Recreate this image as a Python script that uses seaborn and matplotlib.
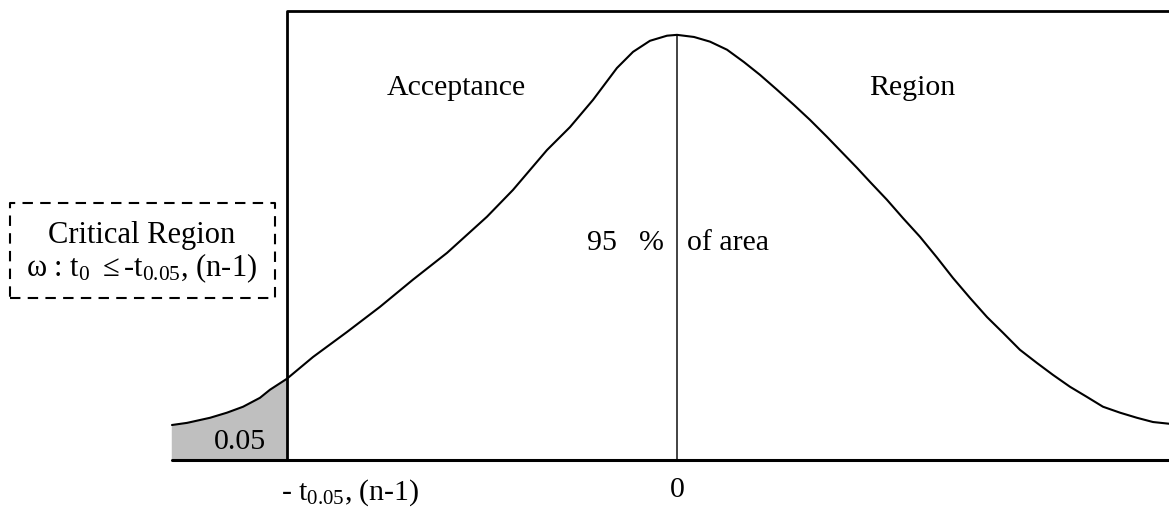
import numpy as np
import pandas as pd
import seaborn as sns
import matplotlib.pyplot as plt

# curve: t value and relative height (peak = 1)
t_vals = [-3.885, -3.769, -3.592, -3.462, -3.338, -3.208, -3.131, -3.0, -2.8, -2.538,
          -2.285, -2.031, -1.769, -1.462, -1.262, -1.0, -0.823, -0.646, -0.462, -0.338,
          -0.208, -0.077, 0.0, 0.131, 0.254, 0.385, 0.515, 0.638, 0.769, 0.9,
          1.023, 1.154, 1.385, 1.485, 1.615, 1.738, 1.869, 2.0, 2.123, 2.254,
          2.385, 2.508, 2.638, 2.769, 2.892, 3.023, 3.154, 3.277, 3.408, 3.538,
          3.662, 3.785]
heights = [0.082, 0.087, 0.099, 0.111, 0.125, 0.146, 0.165, 0.191, 0.242, 0.301,
           0.360, 0.424, 0.487, 0.572, 0.635, 0.729, 0.783, 0.847, 0.922, 0.960,
           0.986, 0.998, 1.0, 0.995, 0.984, 0.965, 0.936, 0.906, 0.871, 0.835,
           0.800, 0.760, 0.687, 0.654, 0.612, 0.569, 0.525, 0.476, 0.428, 0.381,
           0.336, 0.299, 0.259, 0.228, 0.200, 0.172, 0.148, 0.125, 0.111, 0.099,
           0.089, 0.085]
t_crit = -3.0
alpha_label = "0.05"
centre_label = "0"
crit_label = r"- $t_{0.05}$, (n-1)"

sns.set_style("white")
plt.rcParams['font.family'] = ['Liberation Serif', 'DejaVu Serif']
plt.rcParams['text.color'] = 'black'
plt.rcParams['mathtext.fontset'] = 'custom'
plt.rcParams['mathtext.rm'] = 'Liberation Serif'
plt.rcParams['mathtext.it'] = 'Liberation Serif'
plt.rcParams['mathtext.bf'] = 'Liberation Serif:bold'

df = pd.DataFrame({'t': t_vals, 'h': heights})

fig = plt.figure(figsize=(11.69, 5.27), dpi=100)
ax = fig.add_axes([0, 0, 1, 1])
ax.set_xlim(-5.208, 3.785)
ax.set_ylim(-0.158, 1.082)
ax.axis('off')

# shaded critical region
tail = df[df['t'] <= t_crit]
ax.fill_between(tail['t'], 0, tail['h'], color='#bfbfbf', zorder=1)

sns.lineplot(data=df, x='t', y='h', color='black', lw=1.5, ax=ax, zorder=3)

# baseline, acceptance box and centre line
ax.plot([df['t'].min(), 3.785], [0, 0], color='black', lw=2.2, zorder=4)
ax.plot([t_crit, t_crit, 3.785], [0, 1.056, 1.056], color='black', lw=2.0, zorder=4)
ax.plot([0, 0], [0, 1.0], color='#222222', lw=1.2, zorder=2)

fs = 21.5
ax.text(-1.70, 0.875, "Acceptance", ha='center', va='center', fontsize=fs)
ax.text(1.81, 0.875, "Region", ha='center', va='center', fontsize=fs)
ax.text(-0.577, 0.51, "95", ha='center', va='center', fontsize=fs)
ax.text(-0.20, 0.51, "%", ha='center', va='center', fontsize=fs)
ax.text(0.077, 0.51, "of area", ha='left', va='center', fontsize=fs)
ax.text(-3.36, 0.042, alpha_label, ha='center', va='center', fontsize=fs)
ax.text(0, -0.07, centre_label, ha='center', va='center', fontsize=fs)
ax.text(-3.05, -0.078, crit_label, ha='left', va='center', fontsize=fs)

# dashed box with the critical region text
bx0, bx1, by0, by1 = -5.13, -3.09, 0.381, 0.605
ax.plot([bx0, bx1, bx1, bx0, bx0], [by0, by0, by1, by1, by0], color='black',
        lw=1.5, dashes=(5, 3.5), zorder=4)
ax.text(-4.12, 0.529, "Critical Region", ha='center', va='center', fontsize=22)
ax.text(-4.12, 0.452, r"$\omega$ : $t_0$ $\leq$-$t_{0.05}$, (n-1)",
        ha='center', va='center', fontsize=22)

fig.savefig("out.png", dpi=100)
